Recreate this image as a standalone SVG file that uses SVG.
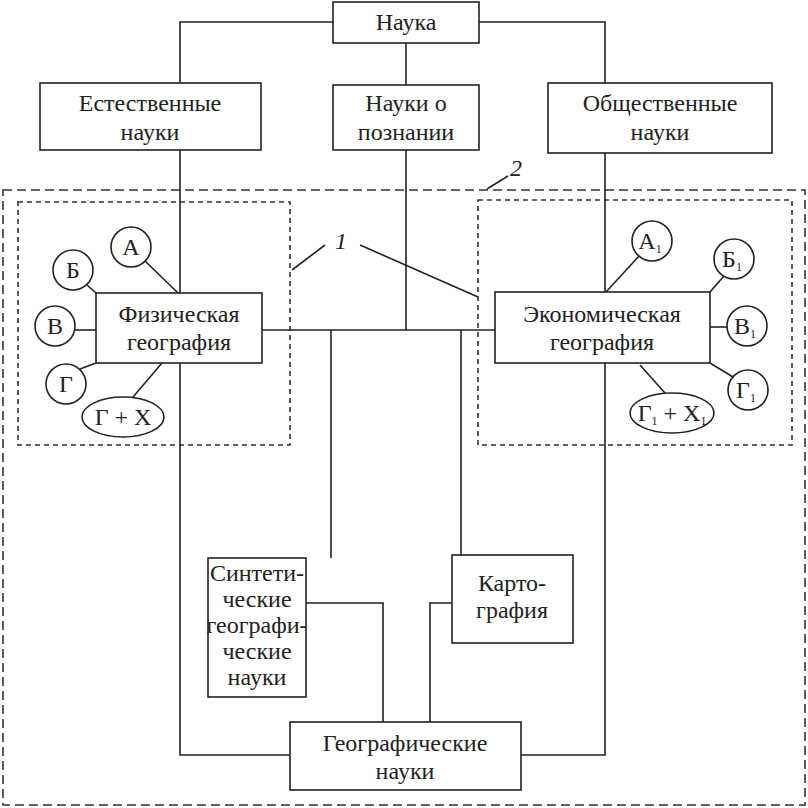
<svg xmlns="http://www.w3.org/2000/svg" width="808" height="808" viewBox="0 0 808 808">
<style>
.b{fill:#fff;stroke:#222;stroke-width:1.6}
.l{fill:none;stroke:#222;stroke-width:1.6}
.d{fill:none;stroke:#333;stroke-width:1.6;stroke-dasharray:9 5}
.d2{fill:none;stroke:#333;stroke-width:1.6;stroke-dasharray:5 4}
text{font-family:"Liberation Serif",serif;font-size:24px;fill:#222;text-anchor:middle}
.s{font-size:12px}
.i{font-style:italic}
</style>
<rect width="808" height="808" fill="#fff"/>
<rect class="d" x="3" y="190" width="802" height="615"/>
<rect class="d2" x="18" y="202" width="272" height="243"/>
<rect class="d2" x="478" y="200" width="314" height="245"/>
<g id="connectors">
<polyline class="l" points="180,83 180,22 605,22 605,83"/>
<line class="l" x1="406" y1="43" x2="406" y2="85"/>
<line class="l" x1="406" y1="150" x2="406" y2="330"/>
<polyline class="l" points="180,150 180,755 290,755"/>
<polyline class="l" points="605,153 605,755 521,755"/>
<line class="l" x1="262" y1="330" x2="495" y2="330"/>
<line class="l" x1="331" y1="330" x2="331" y2="558"/>
<line class="l" x1="461" y1="330" x2="461" y2="555"/>
<polyline class="l" points="306,603 383,603 383,722"/>
<polyline class="l" points="452,603 430,603 430,722"/>
<line class="l" x1="145" y1="261" x2="178" y2="293"/>
<line class="l" x1="87" y1="285" x2="96" y2="293"/>
<line class="l" x1="75" y1="330" x2="96" y2="330"/>
<line class="l" x1="80" y1="369" x2="96" y2="363"/>
<line class="l" x1="133" y1="397" x2="162" y2="363"/>
<line class="l" x1="640" y1="255" x2="606" y2="292"/>
<line class="l" x1="724" y1="276" x2="710" y2="292"/>
<line class="l" x1="710" y1="327" x2="727" y2="327"/>
<line class="l" x1="710" y1="363" x2="733" y2="377"/>
<line class="l" x1="665" y1="393" x2="640" y2="365"/>
<line class="l" x1="292" y1="270" x2="325" y2="245"/>
<line class="l" x1="360" y1="245" x2="478" y2="297"/>
<line class="l" x1="487" y1="189" x2="508" y2="176"/>
</g>
<text class="i" x="341" y="249">1</text>
<text class="i" x="516" y="176">2</text>
<g id="nauka"><rect class="b" x="333" y="2" width="146" height="41"/><text x="406" y="30">Наука</text></g>
<g id="estestv"><rect class="b" x="40" y="83" width="221" height="67"/><text x="150" y="111">Естественные</text><text x="150" y="140">науки</text></g>
<g id="poznanie"><rect class="b" x="333" y="85" width="146" height="65"/><text x="406" y="111">Науки о</text><text x="406" y="140">познании</text></g>
<g id="obshch"><rect class="b" x="548" y="83" width="224" height="70"/><text x="660" y="111">Общественные</text><text x="660" y="140">науки</text></g>
<g id="fiz"><rect class="b" x="96" y="293" width="166" height="70"/><text x="179" y="322">Физическая</text><text x="179" y="350">география</text></g>
<g id="econ"><rect class="b" x="495" y="292" width="215" height="71"/><text x="602" y="322">Экономическая</text><text x="602" y="350">география</text></g>
<g id="A"><circle class="b" cx="131" cy="247" r="20"/><text x="131" y="255">А</text></g>
<g id="B"><circle class="b" cx="73" cy="270" r="20"/><text x="73" y="278">Б</text></g>
<g id="V"><circle class="b" cx="55" cy="326" r="20"/><text x="55" y="334">В</text></g>
<g id="G"><circle class="b" cx="66" cy="384" r="20"/><text x="66" y="392">Г</text></g>
<g id="GX"><ellipse class="b" cx="123" cy="417" rx="41" ry="20"/><text x="123" y="425">Г + Х</text></g>
<g id="A1"><circle class="b" cx="652" cy="241" r="20"/><text x="650" y="249">А<tspan class="s" dy="4">1</tspan></text></g>
<g id="B1"><circle class="b" cx="734" cy="259" r="20"/><text x="732" y="267">Б<tspan class="s" dy="4">1</tspan></text></g>
<g id="V1"><circle class="b" cx="747" cy="326" r="20"/><text x="745" y="334">В<tspan class="s" dy="4">1</tspan></text></g>
<g id="G1"><circle class="b" cx="748" cy="390" r="20"/><text x="746" y="398">Г<tspan class="s" dy="4">1</tspan></text></g>
<g id="GX1"><ellipse class="b" cx="672" cy="413" rx="42" ry="20"/><text x="672" y="421">Г<tspan class="s" dy="4">1</tspan><tspan dy="-4"> + Х</tspan><tspan class="s" dy="4">1</tspan></text></g>
<g id="synth"><rect class="b" x="208" y="558" width="98" height="139"/><text x="257" y="581">Синтети-</text><text x="257" y="607">ческие</text><text x="257" y="633">географи-</text><text x="257" y="659">ческие</text><text x="257" y="685">науки</text></g>
<g id="karto"><rect class="b" x="452" y="555" width="121" height="88"/><text x="512" y="591">Карто-</text><text x="512" y="618">графия</text></g>
<g id="geo"><rect class="b" x="290" y="722" width="231" height="68"/><text x="405" y="751">Географические</text><text x="405" y="779">науки</text></g>
</svg>
